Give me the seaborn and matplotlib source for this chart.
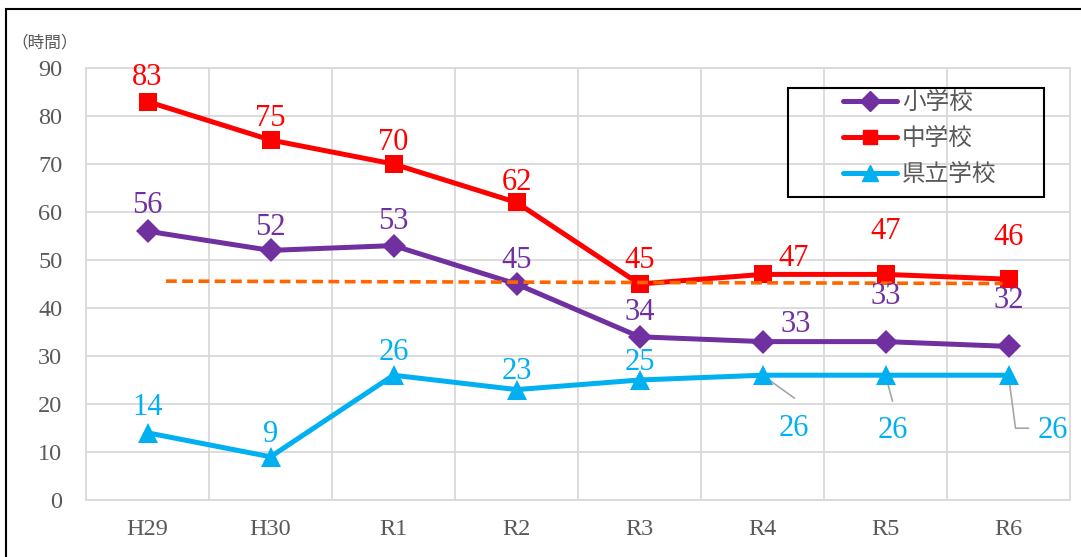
import matplotlib
matplotlib.use("Agg")
import matplotlib.pyplot as plt
from matplotlib.patches import Rectangle
from matplotlib.lines import Line2D
import seaborn as sns

# ===== データ =====
years = ["H29", "H30", "R1", "R2", "R3", "R4", "R5", "R6"]
elementary = [56, 52, 53, 45, 34, 33, 33, 32]     # 小学校
junior = [83, 75, 70, 62, 45, 47, 47, 46]         # 中学校
prefectural = [14, 9, 26, 23, 25, 26, 26, 26]     # 県立学校
series_names = ["小学校", "中学校", "県立学校"]
ref_values = [45.6, 45.1]     # 橙色の破線（両端の値）
ref_span = [0.15, 6.95]       # 破線の始点・終点（カテゴリ位置）

# ===== 設定 =====
sns.set_theme(style="white")
plt.rcParams['font.family'] = ['Liberation Serif', 'Noto Sans CJK JP']
JP = ['Noto Sans CJK JP', 'DejaVu Sans']
GRAY = "#595959"
GRID = "#d9d9d9"
colors = ["#7030a0", "#ff0000", "#00b0f0"]
markers = ["D", "s", "^"]
msizes = [12.5, 12.5, 14]

fig = plt.figure(figsize=(10.81, 5.57), dpi=100)
ax = fig.add_axes([86 / 1081, 57 / 557, 984 / 1081, 432 / 557])

values = [elementary, junior, prefectural]
for vals, name, c, m, ms in zip(values, series_names, colors, markers, msizes):
    sns.lineplot(x=list(range(len(years))), y=vals, sort=False, color=c, linewidth=3.6,
                 marker=m, markersize=ms, markeredgecolor=c, markeredgewidth=0,
                 ax=ax, zorder=3)

ax.plot(ref_span, ref_values, color="#ff6600", linestyle=(0, (3, 1.5)), linewidth=2.6, zorder=4)

ax.set_xlim(-0.5, len(years) - 0.5)
ax.set_ylim(0, 90)
ax.set_yticks(range(0, 91, 10))
ax.set_xticks(range(len(years)))
ax.set_xticklabels(years)
ax.set_xticks([i + 0.5 for i in range(len(years) - 1)], minor=True)
ax.grid(axis="y", color=GRID, linewidth=1.3)
ax.grid(axis="x", which="minor", color=GRID, linewidth=1.3)
ax.grid(axis="x", which="major", visible=False)
ax.tick_params(which="both", length=0)
ax.tick_params(axis="y", labelsize=17.5, labelcolor=GRAY, pad=17)
ax.tick_params(axis="x", labelsize=17.5, labelcolor=GRAY, pad=14)
for s in ax.spines.values():
    s.set_color(GRID)
    s.set_linewidth(1.3)
ax.set_xlabel("")
ax.set_ylabel("")
if ax.get_legend():
    ax.get_legend().remove()

# ===== データラベル =====
offsets = [
    [(0, 26), (0, 23), (0, 24), (0, 24), (0, 24), (33, 17), (0, 45), (0, 46)],
    [(0, 24), (0, 22), (0, 22), (0, 20), (0, 24), (31, 16), (0, 43), (0, 42)],
    [(0, 25), (0, 22), (0, 23), (0, 18), (0, 18), (31, -53), (7, -55), (44, -55)],
]
for vals, c, offs in zip(values, colors, offsets):
    for i, (v, (dx, dy)) in enumerate(zip(vals, offs)):
        ax.annotate(str(v), (i, v), xytext=(dx, dy), textcoords="offset pixels",
                    ha="center", va="center", fontsize=22, color=c, zorder=6)

# 引き出し線（県立学校 R4〜R6）
leaders = {5: [(0, 0), (32, -23)], 6: [(0, 0), (7, -26)], 7: [(0, 0), (7, -53), (20, -53)]}
inv = ax.transData.inverted()
for i, pts in leaders.items():
    px, py = ax.transData.transform((i, prefectural[i]))
    xy = [inv.transform((px + dx, py + dy)) for dx, dy in pts]
    ax.plot([p[0] for p in xy], [p[1] for p in xy], color="#a6a6a6", linewidth=1.2, zorder=2)

# ===== 凡例 =====
handles = [Line2D([], [], color=c, marker=m, markersize=ms * 0.8, linewidth=3.6,
                  solid_capstyle="round")
           for c, m, ms in zip(colors, markers, msizes)]
leg = fig.legend(handles, series_names, loc="upper left", bbox_to_anchor=(843 / 1081, 1 - 91 / 557),
                 frameon=False, borderpad=0, borderaxespad=0, handlelength=2.3,
                 handletextpad=0.2, labelspacing=0.55, prop={'family': JP, 'size': 17})
for t in leg.get_texts():
    t.set_color(GRAY)
fig.patches.append(Rectangle((788 / 1081, 1 - 197 / 557), 256 / 1081, 109 / 557,
                             transform=fig.transFigure, fill=False, edgecolor="black", linewidth=1.5))

fig.text(45 / 1081, 1 - 43 / 557, "（時間）", ha="center", va="center", fontsize=12,
         color=GRAY, family=JP)

# 外枠
fig.patches.append(Rectangle((6 / 1081, -0.1), 1.2, 1.1 - 9 / 557, transform=fig.transFigure,
                             fill=False, edgecolor="black", linewidth=1.5, clip_on=False))

fig.savefig("out.png", dpi=100)
